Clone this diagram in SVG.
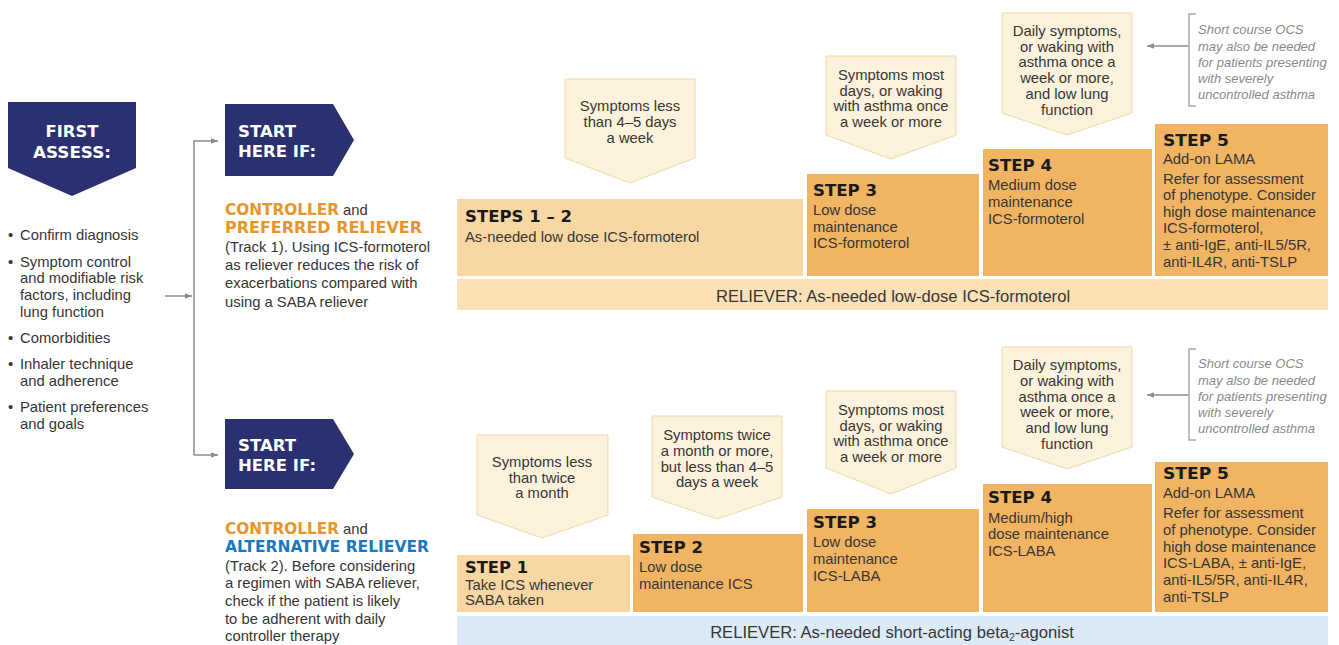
<svg xmlns="http://www.w3.org/2000/svg" width="1339" height="645" viewBox="0 0 1339 645">
<style>
.t{font-family:"Liberation Sans",Arial,sans-serif;font-size:14.8px;fill:#363636}
.c{text-anchor:middle}
.h{font-family:"DejaVu Sans",sans-serif;font-weight:bold;font-size:16.5px;fill:#1a1a1a}
.w{font-family:"DejaVu Sans",sans-serif;font-weight:bold;font-size:16.5px;fill:#fff}
.o{font-family:"DejaVu Sans",sans-serif;font-weight:bold;font-size:15.5px;fill:#e8952a}
.b{font-family:"DejaVu Sans",sans-serif;font-weight:bold;font-size:15.5px;fill:#1d77bb}
.rl{font-family:"Liberation Sans",Arial,sans-serif;font-size:16.6px;fill:#363636;text-anchor:middle}
.n{font-family:"Liberation Sans",Arial,sans-serif;font-size:13px;font-style:italic;fill:#8a8a8a}
.banner{fill:#2b3170}
.lt{fill:#f9d7a3}
.dk{fill:#f1b463}
.rt{fill:#fce1b6}
.rb{fill:#dce9f6}
.co{fill:#fdf2dc;stroke:#f1d8a6;stroke-width:1}
.ln{fill:none;stroke:#8c8c8c;stroke-width:1.5}
.br{fill:none;stroke:#aaaaaa;stroke-width:1.5}
</style>
<defs>
<marker id="ah" viewBox="0 0 10 10" refX="10" refY="5" markerWidth="7" markerHeight="7" orient="auto" markerUnits="userSpaceOnUse">
<path d="M0,1 L10,5 L0,9 z" fill="#8c8c8c"/>
</marker>
</defs>
<rect width="1339" height="645" fill="#ffffff"/>

<g id="connectors">
<path class="ln" d="M165,296 H192" marker-end="url(#ah)"/>
<path class="ln" d="M194,455 V141 H218" marker-end="url(#ah)"/>
<path class="ln" d="M194,455 H218" marker-end="url(#ah)"/>
<path class="ln" d="M1189,46 H1147" marker-end="url(#ah)"/>
<path class="ln" d="M1189,395 H1147" marker-end="url(#ah)"/>
</g>

<g id="first-assess">
<polygon class="banner" points="8,102 136,102 136,168 72,196 8,168"/>
<text class="w c" x="72" y="137" textLength="53" lengthAdjust="spacingAndGlyphs">FIRST</text>
<text class="w c" x="72" y="158" textLength="78" lengthAdjust="spacingAndGlyphs">ASSESS:</text>
</g>

<g id="assess-list">
<text class="t" x="8" y="240">•</text><text class="t" x="20" y="240">Confirm diagnosis</text>
<text class="t" x="8" y="267">•</text><text class="t" x="20" y="267">Symptom control</text>
<text class="t" x="20" y="283">and modifiable risk</text>
<text class="t" x="20" y="300">factors, including</text>
<text class="t" x="20" y="317">lung function</text>
<text class="t" x="8" y="343">•</text><text class="t" x="20" y="343">Comorbidities</text>
<text class="t" x="8" y="369">•</text><text class="t" x="20" y="369">Inhaler technique</text>
<text class="t" x="20" y="386">and adherence</text>
<text class="t" x="8" y="412">•</text><text class="t" x="20" y="412">Patient preferences</text>
<text class="t" x="20" y="429">and goals</text>
</g>

<g id="start-track1">
<polygon class="banner" points="225,104 333,104 354,140 333,176 225,176"/>
<text class="w" x="238" y="137" textLength="58" lengthAdjust="spacingAndGlyphs">START</text>
<text class="w" x="238" y="157" textLength="78" lengthAdjust="spacingAndGlyphs">HERE IF:</text>
</g>
<g id="track1-text">
<text x="225" y="215"><tspan class="o" textLength="114" lengthAdjust="spacingAndGlyphs">CONTROLLER</tspan><tspan class="t"> and</tspan></text>
<text class="o" x="225" y="233" textLength="197" lengthAdjust="spacingAndGlyphs">PREFERRED RELIEVER</text>
<text class="t" x="225" y="252">(Track 1). Using ICS-formoterol</text>
<text class="t" x="225" y="270">as reliever reduces the risk of</text>
<text class="t" x="225" y="288">exacerbations compared with</text>
<text class="t" x="225" y="307">using a SABA reliever</text>
</g>

<g id="start-track2">
<polygon class="banner" points="225,419 333,419 354,454 333,489 225,489"/>
<text class="w" x="238" y="451" textLength="58" lengthAdjust="spacingAndGlyphs">START</text>
<text class="w" x="238" y="471" textLength="78" lengthAdjust="spacingAndGlyphs">HERE IF:</text>
</g>
<g id="track2-text">
<text x="225" y="534"><tspan class="o" textLength="114" lengthAdjust="spacingAndGlyphs">CONTROLLER</tspan><tspan class="t"> and</tspan></text>
<text class="b" x="225" y="552" textLength="204" lengthAdjust="spacingAndGlyphs">ALTERNATIVE RELIEVER</text>
<text class="t" x="225" y="571">(Track 2). Before considering</text>
<text class="t" x="225" y="588">a regimen with SABA reliever,</text>
<text class="t" x="225" y="606">check if the patient is likely</text>
<text class="t" x="225" y="624">to be adherent with daily</text>
<text class="t" x="225" y="641">controller therapy</text>
</g>

<!-- Track 1 -->
<g id="t1-callout-12">
<polygon class="co" points="565,79 695,79 695,158 630,183 565,158"/>
<text class="t c" x="630" y="111">Symptoms less</text>
<text class="t c" x="630" y="127">than 4–5 days</text>
<text class="t c" x="630" y="143">a week</text>
</g>
<g id="t1-callout-3">
<polygon class="co" points="826,56 956,56 956,135 891,159 826,135"/>
<text class="t c" x="891" y="80">Symptoms most</text>
<text class="t c" x="891" y="96">days, or waking</text>
<text class="t c" x="891" y="111">with asthma once</text>
<text class="t c" x="891" y="127">a week or more</text>
</g>
<g id="t1-callout-4">
<polygon class="co" points="1002,13 1132,13 1132,113 1067,135 1002,113"/>
<text class="t c" x="1067" y="36">Daily symptoms,</text>
<text class="t c" x="1067" y="52">or waking with</text>
<text class="t c" x="1067" y="67">asthma once a</text>
<text class="t c" x="1067" y="83">week or more,</text>
<text class="t c" x="1067" y="99">and low lung</text>
<text class="t c" x="1067" y="115">function</text>
</g>
<g id="t1-ocs-note">
<path class="br" d="M1196,14 H1189 V106 H1196"/>
<text class="n" x="1198" y="34">Short course OCS</text>
<text class="n" x="1198" y="51">may also be needed</text>
<text class="n" x="1198" y="67">for patients presenting</text>
<text class="n" x="1198" y="83">with severely</text>
<text class="n" x="1198" y="99">uncontrolled asthma</text>
</g>
<g id="t1-steps12">
<rect class="lt" x="457" y="199" width="346" height="77"/>
<text class="h" x="465" y="222" textLength="107" lengthAdjust="spacingAndGlyphs">STEPS 1 – 2</text>
<text class="t" x="465" y="242">As-needed low dose ICS-formoterol</text>
</g>
<g id="t1-step3">
<rect class="dk" x="807" y="174" width="172" height="102"/>
<text class="h" x="813" y="196" textLength="64" lengthAdjust="spacingAndGlyphs">STEP 3</text>
<text class="t" x="813" y="215">Low dose</text>
<text class="t" x="813" y="232">maintenance</text>
<text class="t" x="813" y="248">ICS-formoterol</text>
</g>
<g id="t1-step4">
<rect class="dk" x="983" y="149" width="169" height="127"/>
<text class="h" x="988" y="171" textLength="64" lengthAdjust="spacingAndGlyphs">STEP 4</text>
<text class="t" x="988" y="190">Medium dose</text>
<text class="t" x="988" y="207">maintenance</text>
<text class="t" x="988" y="224">ICS-formoterol</text>
</g>
<g id="t1-step5">
<rect class="dk" x="1155" y="124" width="173" height="152"/>
<text class="h" x="1163" y="146" textLength="66" lengthAdjust="spacingAndGlyphs">STEP 5</text>
<text class="t" x="1163" y="164">Add-on LAMA</text>
<text class="t" x="1163" y="184">Refer for assessment</text>
<text class="t" x="1163" y="200">of phenotype. Consider</text>
<text class="t" x="1163" y="217">high dose maintenance</text>
<text class="t" x="1163" y="233">ICS-formoterol,</text>
<text class="t" x="1163" y="250">± anti-IgE, anti-IL5/5R,</text>
<text class="t" x="1163" y="267">anti-IL4R, anti-TSLP</text>
</g>
<g id="t1-reliever">
<rect class="rt" x="457" y="279" width="871" height="31"/>
<text class="rl" x="893" y="302">RELIEVER: As-needed low-dose ICS-formoterol</text>
</g>

<!-- Track 2 -->
<g id="t2-callout-1">
<polygon class="co" points="477,435 608,435 608,515 542,538 477,515"/>
<text class="t c" x="542" y="467">Symptoms less</text>
<text class="t c" x="542" y="483">than twice</text>
<text class="t c" x="542" y="498">a month</text>
</g>
<g id="t2-callout-2">
<polygon class="co" points="652,416 782,416 782,497 717,519 652,497"/>
<text class="t c" x="717" y="440">Symptoms twice</text>
<text class="t c" x="717" y="456">a month or more,</text>
<text class="t c" x="717" y="472">but less than 4–5</text>
<text class="t c" x="717" y="487">days a week</text>
</g>
<g id="t2-callout-3">
<polygon class="co" points="826,391 956,391 956,468 891,494 826,468"/>
<text class="t c" x="891" y="415">Symptoms most</text>
<text class="t c" x="891" y="431">days, or waking</text>
<text class="t c" x="891" y="446">with asthma once</text>
<text class="t c" x="891" y="462">a week or more</text>
</g>
<g id="t2-callout-4">
<polygon class="co" points="1002,347 1132,347 1132,447 1067,469 1002,447"/>
<text class="t c" x="1067" y="370">Daily symptoms,</text>
<text class="t c" x="1067" y="386">or waking with</text>
<text class="t c" x="1067" y="402">asthma once a</text>
<text class="t c" x="1067" y="417">week or more,</text>
<text class="t c" x="1067" y="433">and low lung</text>
<text class="t c" x="1067" y="449">function</text>
</g>
<g id="t2-ocs-note">
<path class="br" d="M1196,349 H1189 V440 H1196"/>
<text class="n" x="1198" y="368">Short course OCS</text>
<text class="n" x="1198" y="385">may also be needed</text>
<text class="n" x="1198" y="401">for patients presenting</text>
<text class="n" x="1198" y="417">with severely</text>
<text class="n" x="1198" y="433">uncontrolled asthma</text>
</g>
<g id="t2-step1">
<rect class="lt" x="457" y="555" width="173" height="57"/>
<text class="h" x="465" y="573" textLength="63" lengthAdjust="spacingAndGlyphs">STEP 1</text>
<text class="t" x="465" y="590">Take ICS whenever</text>
<text class="t" x="465" y="605">SABA taken</text>
</g>
<g id="t2-step2">
<rect class="dk" x="633" y="534" width="170" height="78"/>
<text class="h" x="639" y="553" textLength="64" lengthAdjust="spacingAndGlyphs">STEP 2</text>
<text class="t" x="639" y="572">Low dose</text>
<text class="t" x="639" y="589">maintenance ICS</text>
</g>
<g id="t2-step3">
<rect class="dk" x="807" y="509" width="172" height="103"/>
<text class="h" x="813" y="528" textLength="64" lengthAdjust="spacingAndGlyphs">STEP 3</text>
<text class="t" x="813" y="547">Low dose</text>
<text class="t" x="813" y="564">maintenance</text>
<text class="t" x="813" y="581">ICS-LABA</text>
</g>
<g id="t2-step4">
<rect class="dk" x="983" y="484" width="169" height="128"/>
<text class="h" x="988" y="503" textLength="64" lengthAdjust="spacingAndGlyphs">STEP 4</text>
<text class="t" x="988" y="523">Medium/high</text>
<text class="t" x="988" y="539">dose maintenance</text>
<text class="t" x="988" y="556">ICS-LABA</text>
</g>
<g id="t2-step5">
<rect class="dk" x="1155" y="462" width="173" height="150"/>
<text class="h" x="1163" y="479" textLength="66" lengthAdjust="spacingAndGlyphs">STEP 5</text>
<text class="t" x="1163" y="498">Add-on LAMA</text>
<text class="t" x="1163" y="518">Refer for assessment</text>
<text class="t" x="1163" y="535">of phenotype. Consider</text>
<text class="t" x="1163" y="552">high dose maintenance</text>
<text class="t" x="1163" y="568">ICS-LABA, ± anti-IgE,</text>
<text class="t" x="1163" y="585">anti-IL5/5R, anti-IL4R,</text>
<text class="t" x="1163" y="602">anti-TSLP</text>
</g>
<g id="t2-reliever">
<rect class="rb" x="457" y="616" width="871" height="29"/>
<text class="rl" x="892" y="638">RELIEVER: As-needed short-acting beta<tspan font-size="10.5" dy="3">2</tspan><tspan dy="-3">-agonist</tspan></text>
</g>
</svg>
